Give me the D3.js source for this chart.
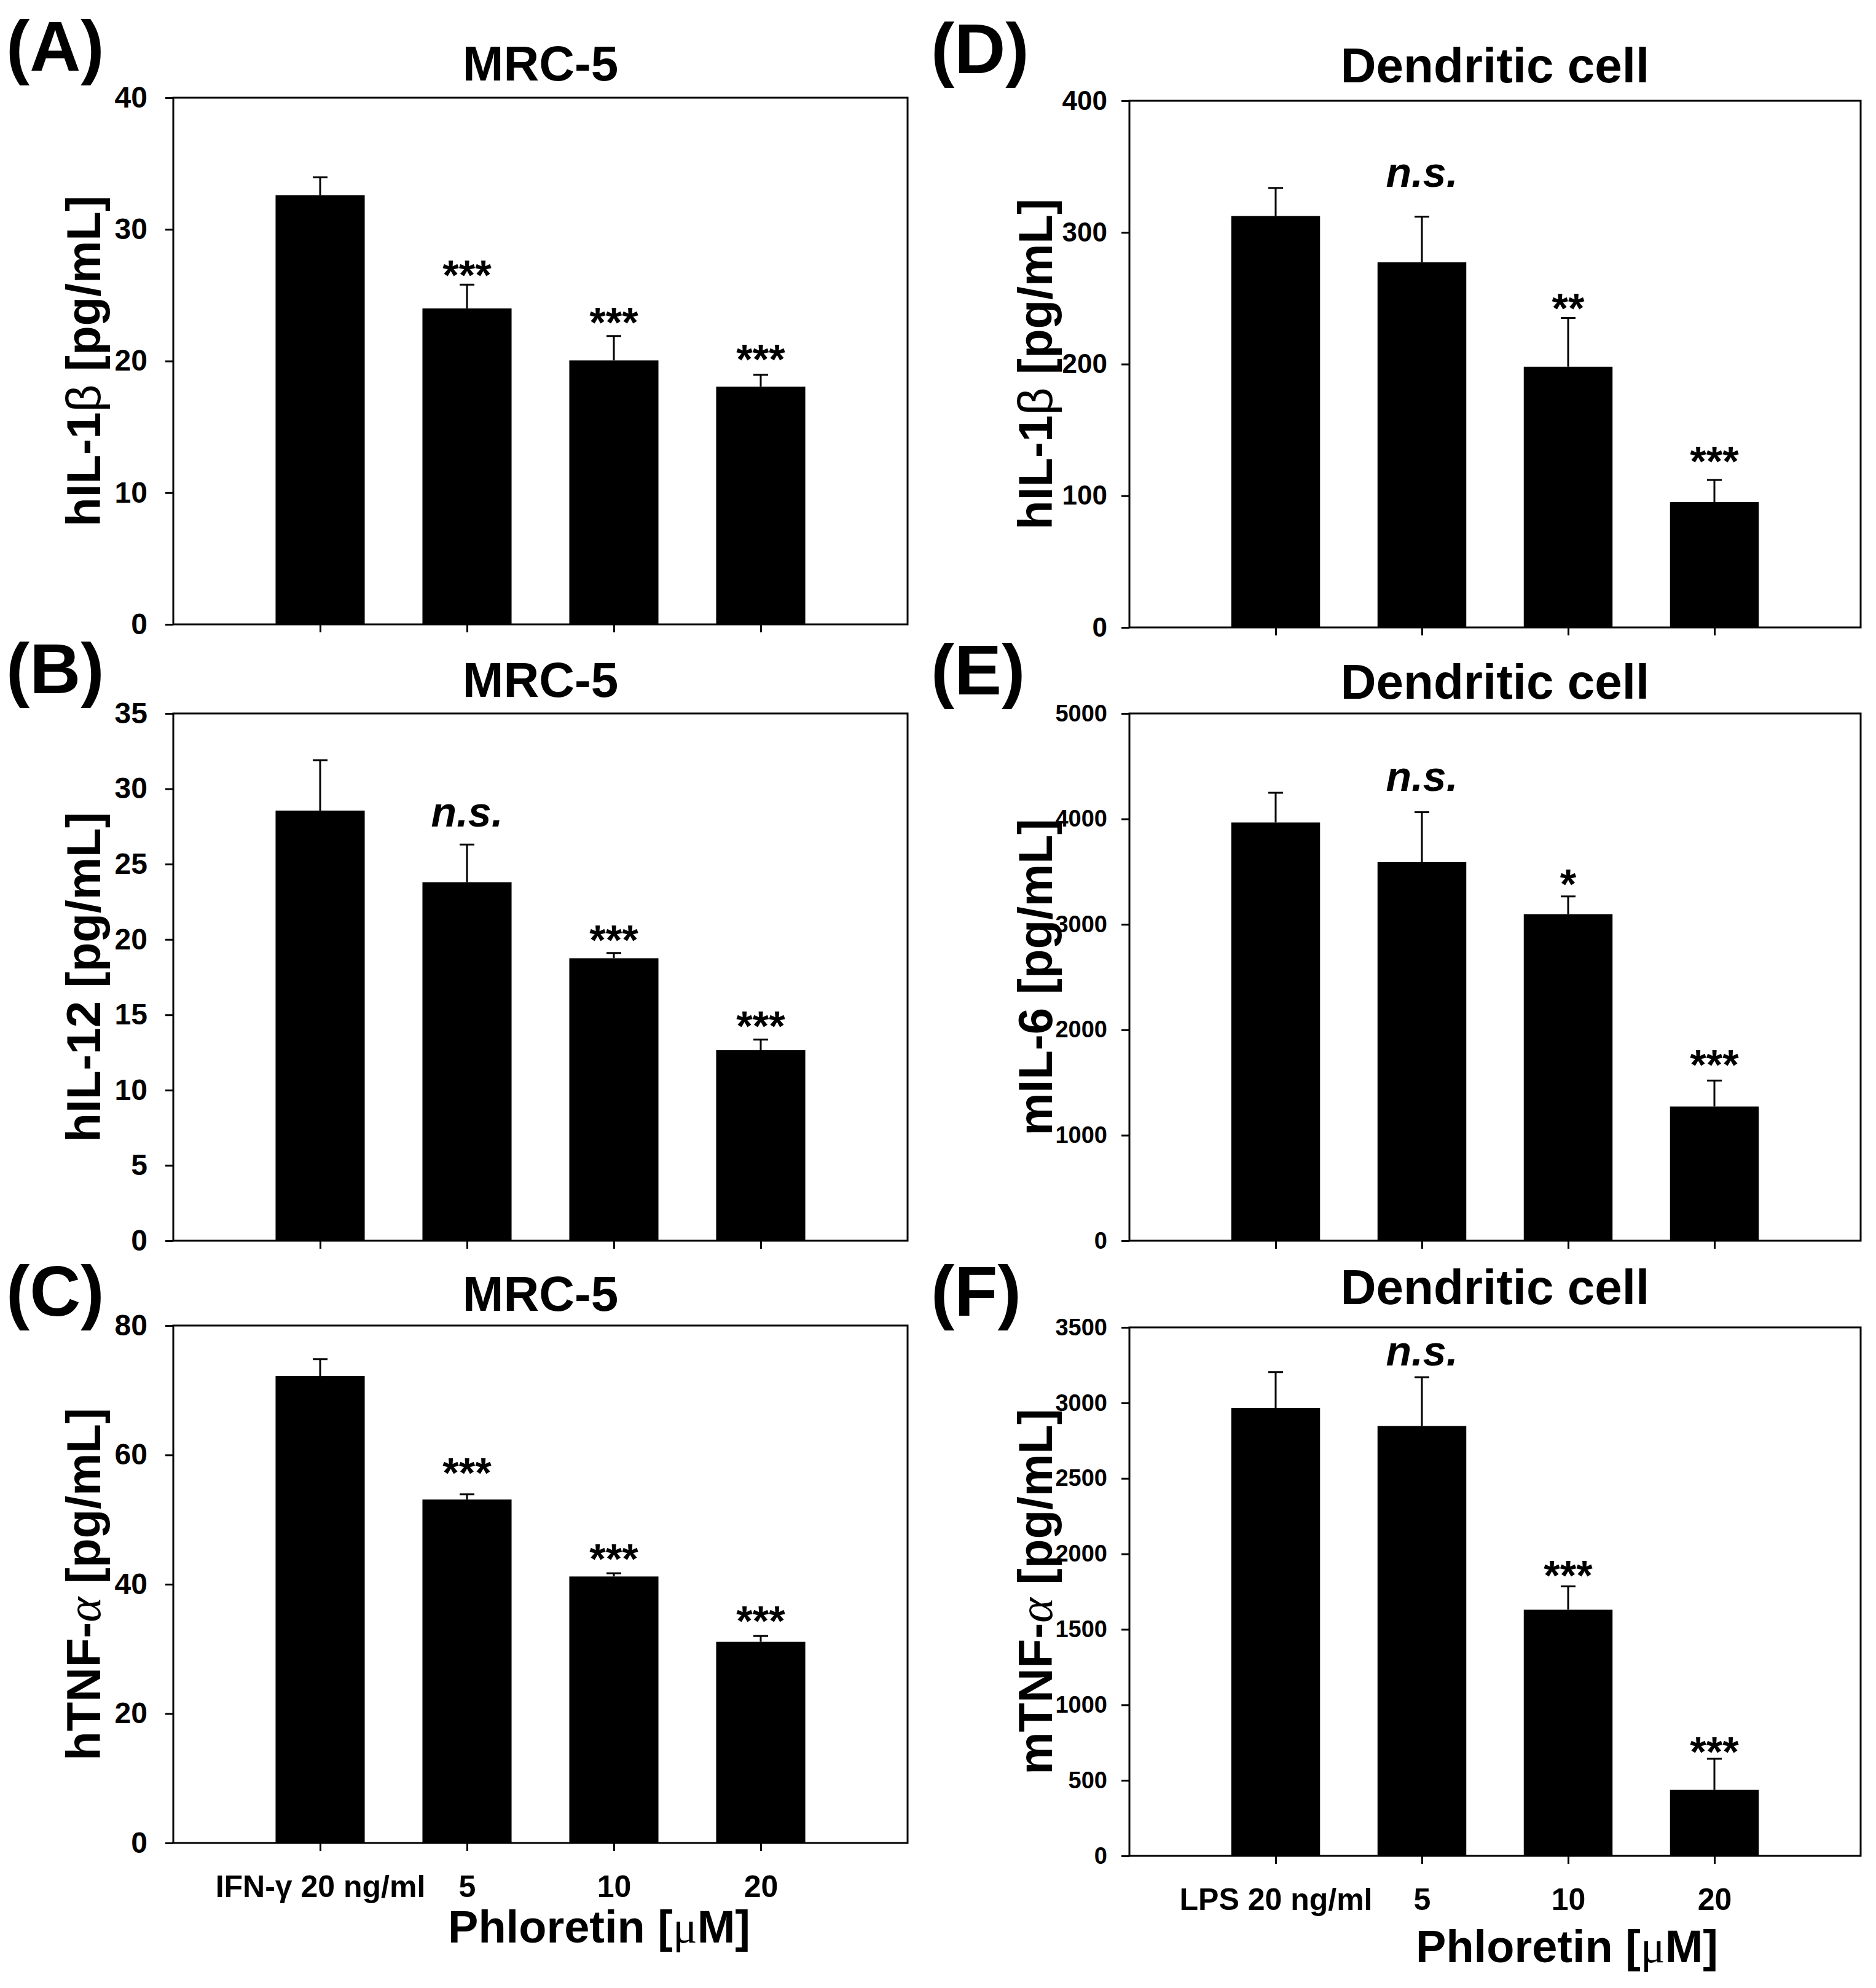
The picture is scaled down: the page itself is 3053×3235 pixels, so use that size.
<!DOCTYPE html>
<html>
<head>
<meta charset="utf-8">
<script src="https://cdn.jsdelivr.net/npm/d3@7"></script>
<style>
  body { margin: 0; background: #fff; }
  text { font-family: "Liberation Sans", Arial, sans-serif; font-weight: bold; fill: #000; }
</style>
</head>
<body>
<svg id="fig"></svg>
<script>
// categories (x positions 1..4)
const mrcTicks = ["IFN-γ 20 ng/ml", "5", "10", "20"];
const dcTicks = ["LPS 20 ng/ml", "5", "10", "20"];

// (A) MRC-5 hIL-1beta
const hIL1b = [32.6, 24.0, 20.05, 18.05];
const hIL1bSem = [1.35, 1.8, 1.85, 0.9];
const hIL1bSig = ["", "***", "***", "***"];
const hIL1bSigAt = [null, 27.3, 23.7, 20.9];

// (B) MRC-5 hIL-12
const hIL12 = [28.55, 23.8, 18.75, 12.65];
const hIL12Sem = [3.35, 2.5, 0.35, 0.7];
const hIL12Sig = ["", "n.s.", "***", "***"];
const hIL12SigAt = [null, 28.2, 20.6, 14.9];

// (C) MRC-5 hTNF-alpha
const hTNF = [72.2, 53.1, 41.2, 31.1];
const hTNFSem = [2.6, 0.8, 0.5, 0.9];
const hTNFSig = ["", "***", "***", "***"];
const hTNFSigAt = [null, 58.8, 45.5, 35.9];

// (D) dendritic cell mIL-1beta
const dIL1b = [312.5, 277.4, 198, 95.2];
const dIL1bSem = [21.3, 34.6, 37, 16.8];
const dIL1bSig = ["", "n.s.", "**", "***"];
const dIL1bSigAt = [null, 343, 250, 133.5];

// (E) dendritic cell mIL-6
const dIL6 = [3966, 3590, 3097, 1273];
const dIL6Sem = [282, 474, 168, 246];
const dIL6Sig = ["", "n.s.", "*", "***"];
const dIL6SigAt = [null, 4370, 3477, 1761];

// (F) dendritic cell mTNF-alpha
const dTNF = [2967, 2847, 1630, 437];
const dTNFSem = [237, 323, 155, 206];
const dTNFSig = ["", "n.s.", "***", "***"];
const dTNFSigAt = [null, 3319, 1922, 755];

const W = 3053, H = 3235;
const svg = d3.select("#fig").attr("width", W).attr("height", H);
svg.append("rect").attr("width", W).attr("height", H).attr("fill", "#fff");

const L = { x0: 282, x1: 1477, labelX: 163, tagX: 10, tickFs: 48, pad: 29 };
const R = { x0: 1838, x1: 3028, labelX: 1712, tagX: 1515, pad: 23 };

const panels = [
  { col: L, tag: "(A)", tagY: 115, title: "MRC-5", titleY: 131, y0: 159, y1: 1016,
    yMax: 40, yStep: 10, label: ["hIL-1", "β", " [pg/mL]"], greek: "beta",
    mean: hIL1b, sem: hIL1bSem, sig: hIL1bSig, sigAt: hIL1bSigAt },
  { col: L, tag: "(B)", tagY: 1128, title: "MRC-5", titleY: 1134, y0: 1161, y1: 2019,
    yMax: 35, yStep: 5, label: ["hIL-12 [pg/mL]", "", ""],
    mean: hIL12, sem: hIL12Sem, sig: hIL12Sig, sigAt: hIL12SigAt },
  { col: L, tag: "(C)", tagY: 2141, title: "MRC-5", titleY: 2133, y0: 2157, y1: 2999,
    yMax: 80, yStep: 20, label: ["hTNF-", "α", " [pg/mL]"], greek: "alpha",
    mean: hTNF, sem: hTNFSem, sig: hTNFSig, sigAt: hTNFSigAt,
    xTicks: mrcTicks, xTitleX: 975, xTitleY: 3161 },
  { col: R, tag: "(D)", tagY: 119, title: "Dendritic cell", titleY: 134, y0: 164, y1: 1021,
    yMax: 400, yStep: 100, tickFs: 44, label: ["hIL-1", "β", " [pg/mL]"], greek: "beta",
    mean: dIL1b, sem: dIL1bSem, sig: dIL1bSig, sigAt: dIL1bSigAt },
  { col: R, tag: "(E)", tagY: 1130, title: "Dendritic cell", titleY: 1137, y0: 1161, y1: 2019,
    yMax: 5000, yStep: 1000, tickFs: 38, label: ["mIL-6 [pg/mL]", "", ""],
    mean: dIL6, sem: dIL6Sem, sig: dIL6Sig, sigAt: dIL6SigAt },
  { col: R, tag: "(F)", tagY: 2141, title: "Dendritic cell", titleY: 2122, y0: 2160, y1: 3020,
    yMax: 3500, yStep: 500, tickFs: 38, label: ["mTNF-", "α", " [pg/mL]"], greek: "alpha",
    mean: dTNF, sem: dTNFSem, sig: dTNFSig, sigAt: dTNFSigAt,
    xTicks: dcTicks, xTitleX: 2550, xTitleY: 3193 }
];

panels.forEach(p => {
  const c = p.col;
  const x = d3.scaleLinear().domain([0, 5]).range([c.x0, c.x1]);
  const y = d3.scaleLinear().domain([0, p.yMax]).range([p.y1, p.y0]);
  const bw = (x(1) - x(0)) * 0.607;
  const g = svg.append("g");

  // panel tag and title
  g.append("text").attr("x", c.tagX).attr("y", p.tagY)
    .attr("font-size", 115).text(p.tag);
  g.append("text").attr("x", (c.x0 + c.x1) / 2).attr("y", p.titleY)
    .attr("text-anchor", "middle").attr("font-size", 80).text(p.title);

  // bars
  const idx = d3.range(4);
  g.selectAll(".bar").data(idx).join("rect")
    .attr("x", i => x(i + 1) - bw / 2)
    .attr("y", i => y(p.mean[i]))
    .attr("width", bw)
    .attr("height", i => y(0) - y(p.mean[i]))
    .attr("fill", "#000");

  // upper error bars
  g.selectAll(".err").data(idx).join("line")
    .attr("x1", i => x(i + 1)).attr("x2", i => x(i + 1))
    .attr("y1", i => y(p.mean[i])).attr("y2", i => y(p.mean[i] + p.sem[i]))
    .attr("stroke", "#000").attr("stroke-width", 3);
  g.selectAll(".cap").data(idx).join("line")
    .attr("x1", i => x(i + 1) - 12).attr("x2", i => x(i + 1) + 12)
    .attr("y1", i => y(p.mean[i] + p.sem[i])).attr("y2", i => y(p.mean[i] + p.sem[i]))
    .attr("stroke", "#000").attr("stroke-width", 3);

  // significance marks
  g.selectAll(".sig").data(idx.filter(i => p.sig[i])).join("text")
    .attr("x", i => x(i + 1))
    .attr("y", i => y(p.sigAt[i]))
    .attr("dy", i => p.sig[i] === "n.s." ? "0.26em" : "0.58em")
    .attr("text-anchor", "middle")
    .attr("font-size", 68)
    .attr("font-style", i => p.sig[i] === "n.s." ? "italic" : "normal")
    .text(i => p.sig[i]);

  // frame
  g.append("rect").attr("x", c.x0).attr("y", p.y0)
    .attr("width", c.x1 - c.x0).attr("height", p.y1 - p.y0)
    .attr("fill", "none").attr("stroke", "#000").attr("stroke-width", 3);

  // y axis
  const yAxis = g.append("g").attr("transform", `translate(${c.x0},0)`)
    .call(d3.axisLeft(y).tickValues(d3.range(0, p.yMax + 1, p.yStep))
      .tickSize(13).tickPadding(c.pad).tickFormat(d3.format("d")));
  yAxis.attr("font-size", p.tickFs || c.tickFs).attr("font-family", null);
  yAxis.select(".domain").remove();
  yAxis.selectAll("line").attr("stroke-width", 3);

  // x axis
  const xAxis = g.append("g").attr("transform", `translate(0,${p.y1})`)
    .call(d3.axisBottom(x).tickValues([1, 2, 3, 4]).tickSize(13).tickPadding(39)
      .tickFormat(d => p.xTicks ? p.xTicks[d - 1] : ""));
  xAxis.attr("font-size", 50).attr("font-family", null);
  xAxis.select(".domain").remove();
  xAxis.selectAll("line").attr("stroke-width", 3);

  // y axis title
  const yt = g.append("text")
    .attr("transform", `translate(${c.labelX},${(p.y0 + p.y1) / 2}) rotate(-90)`)
    .attr("text-anchor", "middle").attr("font-size", 78);
  yt.append("tspan").text(p.label[0]);
  if (p.label[1]) {
    const gt = yt.append("tspan").text(p.label[1]).attr("font-weight", "normal");
    if (p.greek === "alpha") gt.attr("font-style", "italic").style("font-family", "'Liberation Serif', serif");
    yt.append("tspan").text(p.label[2]);
  }

  // x axis title
  if (p.xTicks) {
    const xt = g.append("text").attr("x", p.xTitleX).attr("y", p.xTitleY)
      .attr("text-anchor", "middle").attr("font-size", 74);
    xt.append("tspan").text("Phloretin [");
    xt.append("tspan").text("μ").attr("font-weight", "normal")
      .style("font-family", "'Liberation Serif', serif");
    xt.append("tspan").text("M]");
  }
});
</script>
</body>
</html>
